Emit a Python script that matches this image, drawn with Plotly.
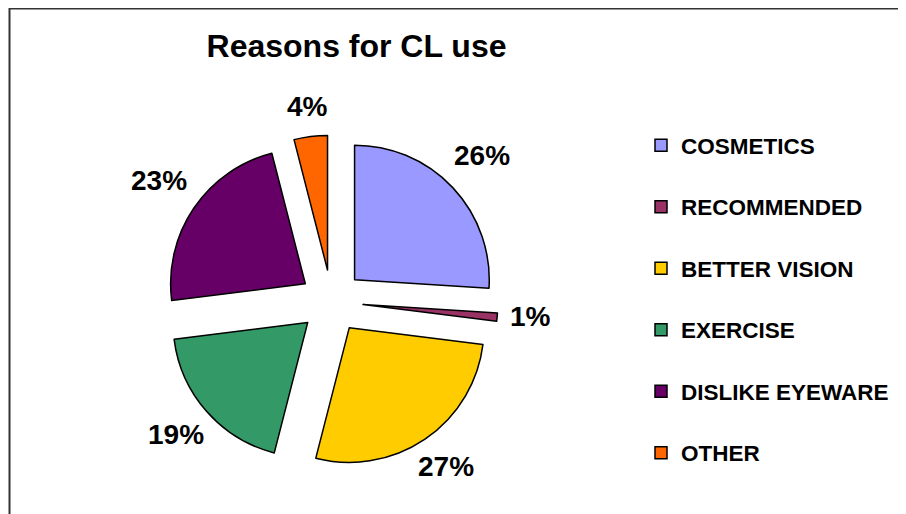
import math
import plotly.graph_objects as go

categories = ["COSMETICS", "RECOMMENDED", "BETTER VISION", "EXERCISE", "DISLIKE EYEWARE", "OTHER"]
values = [26, 1, 27, 19, 23, 4]
colors = ["#9999FF", "#993366", "#FFCC00", "#339966", "#660066", "#FF6600"]
title_text = "Reasons for CL use"

W, H = 906, 514
FONT = "Liberation Sans, Arial, sans-serif"
LABEL_SIZE = 28

# pie geometry (figure pixels)
cx, cy, r, pull = 323.5, 293.5, 134.7, 0.235
half = r * (1 + pull)

fig = go.Figure(go.Pie(
    labels=[c + "<br> " for c in categories],
    values=values,
    sort=False,
    direction="clockwise",
    rotation=0,
    pull=[pull] * len(values),
    marker=dict(colors=colors, line=dict(color="black", width=1.5)),
    textinfo="none",
    domain=dict(x=[(cx - half) / W, (cx + half) / W],
                y=[(H - cy - half) / H, (H - cy + half) / H]),
    hoverinfo="skip",
))

# percentage labels placed outside each exploded slice, along its bisector
edge = 179
lift = 4
total = sum(values)
annotations = []
cum = 0
for v in values:
    mid = (cum + v / 2) / total * 2 * math.pi
    cum += v
    ux, uy = math.sin(mid), -math.cos(mid)
    txt = f"{v}%"
    w = LABEL_SIZE * (0.556 * (len(txt) - 1) + 0.889)
    rl = edge + abs(ux) * w / 2 + abs(uy) * 11
    px, py = cx + ux * rl, cy + uy * rl - lift
    annotations.append(dict(
        text=f"<b>{txt}</b>", x=px / W, y=1 - py / H, xref="paper", yref="paper",
        xanchor="center", yanchor="middle", showarrow=False,
        font=dict(family=FONT, size=LABEL_SIZE, color="black")))

fig.update_layout(
    width=W, height=H,
    margin=dict(l=0, r=0, t=0, b=0),
    paper_bgcolor="white",
    plot_bgcolor="white",
    title=dict(text="<b>" + title_text + "</b>", x=348.5 / W, xanchor="center",
               y=1 - 38 / H, yanchor="middle", yref="container",
               font=dict(family=FONT, size=32, color="black")),
    legend=dict(x=633 / W, xanchor="left", y=1 - 116 / H, yanchor="top",
                valign="top", traceorder="normal",
                font=dict(family=FONT, size=22.5, color="black", weight="bold"),
                bgcolor="rgba(0,0,0,0)"),
    annotations=annotations,
    shapes=[dict(type="rect", xref="paper", yref="paper",
                 x0=1.5 / W, x1=1.2, y0=-0.2, y1=1 - 0.5 / H,
                 line=dict(color="#333333", width=2), layer="below")],
)

fig.write_html("out.html")
